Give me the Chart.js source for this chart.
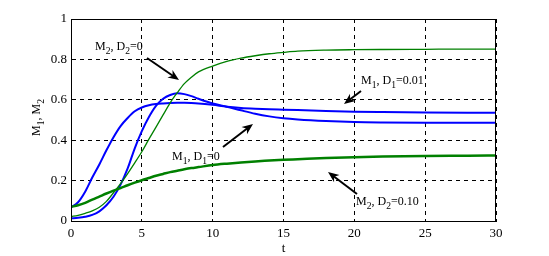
<!DOCTYPE html>
<html>
<head>
<meta charset="utf-8">
<script src="https://cdn.jsdelivr.net/npm/chart.js@4"></script>
<style>
  html, body { margin: 0; padding: 0; background: #fff; }
  #wrap { width: 549px; height: 256px; }
</style>
</head>
<body>
<div id="wrap"><canvas id="c" width="549" height="256"></canvas></div>
<script>
// time axis (shared by all curves)
const tVals = [0, 0.5, 1, 1.5, 2, 2.5, 3, 3.5, 4, 4.5, 5, 5.5, 6, 6.5, 7, 7.5, 8, 8.5, 9, 10, 11, 12, 13, 14, 15, 16, 18, 20, 22, 25, 28, 30];

// M1, D1=0.01 (blue, upper at the end)
const m1D001 = [0.068, 0.093, 0.145, 0.215, 0.28, 0.35, 0.415, 0.47, 0.51, 0.543, 0.562, 0.573, 0.579, 0.582, 0.584, 0.585, 0.585, 0.584, 0.582, 0.575, 0.566, 0.56, 0.556, 0.553, 0.551, 0.549, 0.545, 0.541, 0.539, 0.537, 0.536, 0.536];
// M1, D1=0 (blue, overshoot)
const m1D0 = [0.013, 0.016, 0.021, 0.03, 0.048, 0.078, 0.12, 0.18, 0.26, 0.36, 0.445, 0.515, 0.57, 0.605, 0.624, 0.632, 0.628, 0.618, 0.605, 0.582, 0.566, 0.548, 0.531, 0.518, 0.509, 0.503, 0.495, 0.49, 0.488, 0.487, 0.487, 0.487];
// M2, D2=0 (green, thin)
const m2D0 = [0.022, 0.028, 0.038, 0.05, 0.068, 0.097, 0.14, 0.185, 0.235, 0.288, 0.343, 0.405, 0.465, 0.525, 0.585, 0.635, 0.68, 0.712, 0.738, 0.767, 0.79, 0.806, 0.818, 0.828, 0.835, 0.841, 0.846, 0.848, 0.849, 0.85, 0.851, 0.851];
// M2, D2=0.10 (green, thick)
const m2D010 = [0.07, 0.078, 0.09, 0.106, 0.121, 0.136, 0.15, 0.163, 0.177, 0.19, 0.202, 0.213, 0.224, 0.233, 0.242, 0.249, 0.256, 0.262, 0.267, 0.277, 0.284, 0.29, 0.295, 0.299, 0.303, 0.306, 0.312, 0.316, 0.319, 0.322, 0.323, 0.324];

const xTicks = [0, 5, 10, 15, 20, 25, 30];
const yTicks = [0, 0.2, 0.4, 0.6, 0.8, 1];

const FONT = "'Liberation Serif', 'Times New Roman', serif";

function pts(ys) {
    return tVals.map((t, i) => ({ x: t, y: ys[i] }));
}

function serie(ys, color, width) {
    return {
        data: pts(ys),
        borderColor: color,
        borderWidth: width,
        pointRadius: 0,
        fill: false,
        cubicInterpolationMode: "monotone"
    };
}

// text with subscripts: parts = [[text, isSub], ...]
function subText(ctx, parts, x, y, size) {
    let cx = x;
    parts.forEach(p => {
        const sz = p[1] ? size * 0.8 : size;
        ctx.font = sz + "px " + FONT;
        ctx.fillText(p[0], cx, p[1] ? y + 3.5 : y);
        cx += ctx.measureText(p[0]).width;
    });
}

function arrow(ctx, x1, y1, x2, y2) {
    const a = Math.atan2(y2 - y1, x2 - x1);
    const len = 11, w = 4.5;
    ctx.strokeStyle = "#000";
    ctx.fillStyle = "#000";
    ctx.lineWidth = 2;
    ctx.beginPath();
    ctx.moveTo(x1, y1);
    ctx.lineTo(x2 - Math.cos(a) * len * 0.6, y2 - Math.sin(a) * len * 0.6);
    ctx.stroke();
    ctx.beginPath();
    ctx.moveTo(x2, y2);
    ctx.lineTo(x2 - Math.cos(a) * len + Math.sin(a) * w, y2 - Math.sin(a) * len - Math.cos(a) * w);
    ctx.lineTo(x2 - Math.cos(a) * len * 0.7, y2 - Math.sin(a) * len * 0.7);
    ctx.lineTo(x2 - Math.cos(a) * len - Math.sin(a) * w, y2 - Math.sin(a) * len + Math.cos(a) * w);
    ctx.closePath();
    ctx.fill();
}

const notes = {
    id: "notes",
    afterDraw(chart) {
        const ctx = chart.ctx;
        const a = chart.chartArea;
        ctx.save();
        // solid frame
        ctx.strokeStyle = "#000";
        ctx.lineWidth = 1;
        ctx.setLineDash([]);
        ctx.strokeRect(a.left + 0.5, a.top + 0.5, a.right - a.left - 1, a.bottom - a.top);

        ctx.fillStyle = "#000";
        ctx.textBaseline = "alphabetic";
        ctx.textAlign = "left";
        subText(ctx, [["M", 0], ["2", 1], [", D", 0], ["2", 1], ["=0", 0]], 95, 50, 12);
        subText(ctx, [["M", 0], ["1", 1], [", D", 0], ["1", 1], ["=0.01", 0]], 361, 84, 12);
        subText(ctx, [["M", 0], ["1", 1], [", D", 0], ["1", 1], ["=0", 0]], 172, 160, 12);
        subText(ctx, [["M", 0], ["2", 1], [", D", 0], ["2", 1], ["=0.10", 0]], 356, 205, 12);

        arrow(ctx, 147, 58, 179, 80);
        arrow(ctx, 361, 91, 344, 104);
        arrow(ctx, 223, 147, 253, 124);
        arrow(ctx, 357, 194, 328, 172);

        // y axis title
        ctx.save();
        ctx.translate(40, 136);
        ctx.rotate(-Math.PI / 2);
        ctx.fillStyle = "#000";
        subText(ctx, [["M", 0], ["1", 1], [", M", 0], ["2", 1]], 0, 0, 12);
        ctx.restore();
        ctx.restore();
    }
};

new Chart(document.getElementById("c").getContext("2d"), {
    type: "line",
    data: {
        datasets: [
            serie(m2D010, "#008000", 2.5),
            serie(m2D0, "#008000", 1.3),
            serie(m1D001, "#0000ff", 2),
            serie(m1D0, "#0000ff", 2)
        ]
    },
    options: {
        responsive: false,
        animation: false,
        events: [],
        layout: { padding: { top: 19, right: 53, left: 0, bottom: 0 } },
        plugins: {
            legend: { display: false },
            tooltip: { enabled: false }
        },
        scales: {
            x: {
                type: "linear",
                min: 0,
                max: 30,
                afterFit: s => { s.height = 35; },
                afterBuildTicks: s => { s.ticks = xTicks.map(v => ({ value: v })); },
                grid: { color: "#000", lineWidth: 1, drawTicks: false },
                border: { display: true, color: "#000", dash: [4, 4] },
                ticks: { color: "#000", padding: 5, font: { family: FONT, size: 13 }, maxRotation: 0 },
                title: { display: true, text: "t", color: "#000", padding: { top: 0, bottom: 0 }, font: { family: FONT, size: 13 } }
            },
            y: {
                min: 0,
                max: 1,
                afterFit: s => { s.width = 71; },
                afterBuildTicks: s => { s.ticks = yTicks.map(v => ({ value: v })); },
                grid: { color: "#000", lineWidth: 1, drawTicks: false },
                border: { display: true, color: "#000", dash: [4, 4] },
                ticks: { color: "#000", padding: 4, font: { family: FONT, size: 13 }, callback: v => String(v) }
            }
        }
    },
    plugins: [notes]
});
</script>
</body>
</html>
